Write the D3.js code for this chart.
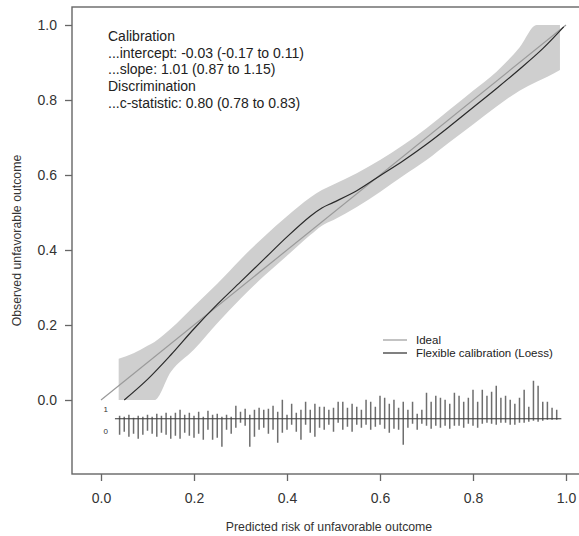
<!DOCTYPE html>
<html>
<head>
<meta charset="utf-8">
<script src="https://cdn.jsdelivr.net/npm/d3@7"></script>
<style>
  body { margin: 0; background: #fff; }
  svg { display: block; font-family: "Liberation Sans", Arial, sans-serif; }
</style>
</head>
<body>
<svg id="chart" width="579" height="536"></svg>
<script>

// predicted risk bins of the spike histogram
var riskBins = [0.04, 0.05, 0.06, 0.07, 0.08, 0.09, 0.10, 0.11, 0.12, 0.13, 0.14, 0.15, 0.16, 0.17, 0.18, 0.19, 0.20, 0.21, 0.22,
    0.23, 0.24, 0.25, 0.26, 0.27, 0.28, 0.29, 0.30, 0.31, 0.32, 0.33, 0.34, 0.35, 0.36, 0.37, 0.38, 0.39, 0.40,
    0.41, 0.42, 0.43, 0.44, 0.45, 0.46, 0.47, 0.48, 0.49, 0.50, 0.51, 0.52, 0.53, 0.54, 0.55, 0.56, 0.57, 0.58, 0.59, 0.60,
    0.61, 0.62, 0.63, 0.64, 0.65, 0.66, 0.67, 0.68, 0.69, 0.70, 0.71, 0.72, 0.73, 0.74, 0.75, 0.76, 0.77, 0.78, 0.79, 0.80,
    0.81, 0.82, 0.83, 0.84, 0.85, 0.86, 0.87, 0.88, 0.89, 0.90, 0.91, 0.92, 0.93, 0.94, 0.95, 0.96, 0.97, 0.98];

// patients with outcome = 1 (spikes up)
var eventCounts = [3, 2, 4, 1, 3, 2, 4, 2, 5, 3, 6, 3, 6, 9, 4, 6, 3, 7, 2,
    8, 4, 5, 2, 4, 2, 13, 7, 10, 4, 9, 11, 9, 10, 13, 7, 19, 4,
    15, 6, 9, 17, 9, 15, 12, 12, 9, 11, 17, 17, 11, 15, 12, 9, 19, 17, 12, 23,
    21, 15, 19, 11, 17, 9, 17, 5, 9, 26, 17, 23, 21, 19, 15, 26, 23, 17, 21, 29,
    17, 29, 23, 27, 33, 21, 23, 19, 15, 21, 29, 12, 38, 33, 17, 17, 11, 9];

// patients with outcome = 0 (spikes down)
var nonEventCounts = [16, 13, 18, 15, 20, 16, 12, 15, 18, 14, 16, 20, 17, 20, 14, 17, 19, 15, 21,
    11, 21, 19, 28, 11, 15, 9, 4, 7, 28, 18, 11, 9, 15, 11, 24, 14, 11,
    6, 13, 21, 6, 14, 18, 9, 11, 6, 13, 4, 11, 8, 13, 6, 9, 6, 11, 8, 6,
    10, 14, 10, 11, 26, 9, 5, 11, 5, 7, 10, 7, 9, 7, 10, 7, 7, 9, 5, 7,
    9, 5, 4, 5, 6, 4, 4, 6, 6, 4, 4, 3, 2, 3, 2, 1, 1, 1];

// flexible calibration curve (loess)
var loessRisk = [0.05, 0.10, 0.15, 0.20, 0.25, 0.30, 0.35, 0.40, 0.45, 0.475, 0.50, 0.55, 0.60, 0.65, 0.70, 0.75, 0.80, 0.85, 0.90, 0.95, 0.995];
var loessObserved = [0.00, 0.055, 0.12, 0.19, 0.255, 0.315, 0.375, 0.435, 0.49, 0.512, 0.527, 0.558, 0.598, 0.638, 0.682, 0.73, 0.78, 0.83, 0.882, 0.937, 0.995];

// confidence band of the loess curve
var bandRisk = [0.038, 0.07, 0.10, 0.115, 0.15, 0.20, 0.25, 0.30, 0.35, 0.40, 0.45, 0.475, 0.50, 0.55, 0.60, 0.65, 0.70, 0.75, 0.80, 0.85, 0.90, 0.937, 0.96, 0.987];
var bandLower = [0, 0, 0, 0, 0.075, 0.135, 0.205, 0.27, 0.33, 0.385, 0.44, 0.465, 0.48, 0.515, 0.555, 0.598, 0.64, 0.688, 0.735, 0.782, 0.825, 0.849, 0.862, 0.88];
var bandUpper = [0.11, 0.125, 0.145, 0.155, 0.19, 0.25, 0.31, 0.375, 0.435, 0.49, 0.54, 0.56, 0.575, 0.605, 0.64, 0.68, 0.725, 0.775, 0.825, 0.875, 0.94, 1.0, 1.0, 1.0];

var tickValues = [0, 0.2, 0.4, 0.6, 0.8, 1.0];

var statLines = [
    'Calibration',
    '...intercept: -0.03 (-0.17 to 0.11)',
    '...slope: 1.01 (0.87 to 1.15)',
    'Discrimination',
    '...c-statistic: 0.80 (0.78 to 0.83)'
];

var legendItems = [
    { label: 'Ideal', color: '#9a9a9a' },
    { label: 'Flexible calibration (Loess)', color: '#2a2a2a' }
];

var svg = d3.select('#chart');

var x = d3.scaleLinear().domain([0, 1]).range([101, 566]);
var y = d3.scaleLinear().domain([0, 1]).range([400, 25]);

// plot box (right edge falls outside the picture)
var box = { left: 72, top: 7, right: 586, bottom: 474 };

svg.append('rect')
    .attr('x', box.left)
    .attr('y', box.top)
    .attr('width', box.right - box.left)
    .attr('height', box.bottom - box.top)
    .attr('fill', 'none')
    .attr('stroke', '#666')
    .attr('stroke-width', 1.4);

// confidence band
var bandData = bandRisk.map(function (r, i) {
    return { r: r, lo: bandLower[i], hi: bandUpper[i] };
});

svg.append('path')
    .datum(bandData)
    .attr('fill', '#cfcfcf')
    .attr('d', d3.area()
        .x(function (d) { return x(d.r); })
        .y0(function (d) { return y(d.lo); })
        .y1(function (d) { return y(d.hi); })
        .curve(d3.curveMonotoneX));

// ideal line
svg.append('line')
    .attr('x1', x(0)).attr('y1', y(0))
    .attr('x2', x(1)).attr('y2', y(1))
    .attr('stroke', legendItems[0].color)
    .attr('stroke-width', 1.2);

// loess line
var loessData = loessRisk.map(function (r, i) {
    return { r: r, o: loessObserved[i] };
});

svg.append('path')
    .datum(loessData)
    .attr('fill', 'none')
    .attr('stroke', legendItems[1].color)
    .attr('stroke-width', 1.2)
    .attr('d', d3.line()
        .x(function (d) { return x(d.r); })
        .y(function (d) { return y(d.o); })
        .curve(d3.curveCatmullRom));

// spike histogram
var histBase = y(-0.05);
var spike = d3.scaleLinear()
    .domain([0, d3.max(eventCounts.concat(nonEventCounts))])
    .range([0, 38]);

var hist = svg.append('g').attr('class', 'spikes');

hist.selectAll('line.up')
    .data(riskBins)
    .enter().append('line')
    .attr('class', 'up')
    .attr('x1', function (d) { return x(d); })
    .attr('x2', function (d) { return x(d); })
    .attr('y1', histBase)
    .attr('y2', function (d, i) { return histBase - spike(eventCounts[i]); })
    .attr('stroke', '#6e6e6e')
    .attr('stroke-width', 1.5);

hist.selectAll('line.down')
    .data(riskBins)
    .enter().append('line')
    .attr('class', 'down')
    .attr('x1', function (d) { return x(d); })
    .attr('x2', function (d) { return x(d); })
    .attr('y1', histBase)
    .attr('y2', function (d, i) { return histBase + spike(nonEventCounts[i]); })
    .attr('stroke', '#6e6e6e')
    .attr('stroke-width', 1.5);

hist.append('line')
    .attr('x1', x(0.03)).attr('x2', x(0.99))
    .attr('y1', histBase).attr('y2', histBase)
    .attr('stroke', '#333')
    .attr('stroke-width', 1);

hist.append('text')
    .attr('x', x(0.01)).attr('y', histBase - 7)
    .attr('text-anchor', 'middle')
    .attr('font-size', 8)
    .attr('fill', '#333')
    .text('1');

hist.append('text')
    .attr('x', x(0.01)).attr('y', histBase + 15)
    .attr('text-anchor', 'middle')
    .attr('font-size', 8)
    .attr('fill', '#333')
    .text('0');

// axes
var fmt = d3.format('.1f');

var yAxis = svg.append('g')
    .attr('transform', 'translate(' + box.left + ',0)')
    .call(d3.axisLeft(y).tickValues(tickValues).tickFormat(fmt).tickSize(7).tickPadding(8));

var xAxis = svg.append('g')
    .attr('transform', 'translate(0,' + box.bottom + ')')
    .call(d3.axisBottom(x).tickValues(tickValues).tickFormat(fmt).tickSize(7).tickPadding(12));

[yAxis, xAxis].forEach(function (a) {
    a.select('.domain').remove();
    a.selectAll('line').attr('stroke', '#666').attr('stroke-width', 1.3);
    a.selectAll('text')
        .attr('fill', '#333')
        .style('font-family', '"Liberation Sans", Arial, sans-serif')
        .style('font-size', '14px');
});

svg.append('text')
    .attr('x', (box.left + box.right) / 2)
    .attr('y', 531)
    .attr('text-anchor', 'middle')
    .attr('font-size', 12.3)
    .attr('fill', '#333')
    .text('Predicted risk of unfavorable outcome');

svg.append('text')
    .attr('transform', 'translate(21,' + (box.top + box.bottom) / 2 + ') rotate(-90)')
    .attr('text-anchor', 'middle')
    .attr('font-size', 12.3)
    .attr('fill', '#333')
    .text('Observed unfavorable outcome');

// calibration statistics
svg.append('g')
    .selectAll('text')
    .data(statLines)
    .enter().append('text')
    .attr('x', 108)
    .attr('y', function (d, i) { return 41 + i * 16.7; })
    .attr('font-size', 14)
    .attr('fill', '#222')
    .text(function (d) { return d; });

// legend
var legend = svg.append('g')
    .selectAll('g')
    .data(legendItems)
    .enter().append('g')
    .attr('transform', function (d, i) { return 'translate(383,' + (340 + i * 13) + ')'; });

legend.append('line')
    .attr('x1', 0).attr('x2', 24)
    .attr('stroke', function (d) { return d.color; })
    .attr('stroke-width', 1.2);

legend.append('text')
    .attr('x', 33)
    .attr('dy', '0.35em')
    .attr('font-size', 11.5)
    .attr('fill', '#222')
    .text(function (d) { return d.label; });

</script>
</body>
</html>
